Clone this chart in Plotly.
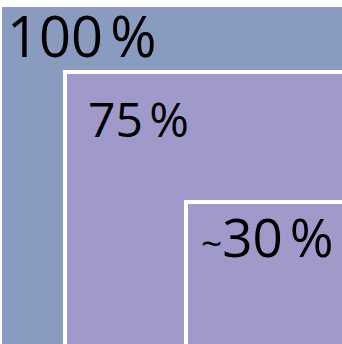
import plotly.graph_objects as go

# Nested shares, outermost first
labels = ["100\u202f%", "75\u202f%", "<span style='font-size:70%'>~</span>30\u202f%"]
shares = [100, 75, 30]

W, H = 342, 344

# box geometry (pixel space, y grows downward)
boxes = [
    dict(x0=2, y0=7, fill="#8a9bc0", border=0),
    dict(x0=65, y0=72, fill="#a09acb", border=4),
    dict(x0=186, y0=202, fill="#a09acb", border=4),
]
# label anchor (left, top) and font size; anchors stay inside the axis range
text_pos = [(5, -5, 56), (86, 84, 48), (199, 198, 53)]

fig = go.Figure()
shapes = []
for b in boxes:
    shapes.append(dict(
        type="rect", xref="x", yref="y",
        x0=b["x0"], y0=b["y0"], x1=W + 10, y1=H + 10,
        fillcolor=b["fill"],
        line=dict(color="white", width=b["border"]) if b["border"] else dict(width=0),
        layer="below",
    ))

annotations = []
for lab, share, (tx, ty, fs) in zip(labels, shares, text_pos):
    shift = min(ty, 0)
    annotations.append(dict(
        x=tx, y=ty - shift, yshift=-shift, xref="x", yref="y", text=lab,
        showarrow=False, xanchor="left", yanchor="top",
        font=dict(family="Open Sans", size=fs, color="black"),
    ))

fig.add_trace(go.Scatter(x=[0], y=[0], mode="markers", marker=dict(opacity=0),
                         hoverinfo="skip", showlegend=False))
fig.update_layout(
    width=W, height=H, margin=dict(l=0, r=0, t=0, b=0),
    paper_bgcolor="white", plot_bgcolor="white",
    shapes=shapes, annotations=annotations,
    xaxis=dict(range=[0, W], visible=False, fixedrange=True),
    yaxis=dict(range=[H, 0], visible=False, fixedrange=True),
)
fig.write_html("out.html", config={"displayModeBar": False})
